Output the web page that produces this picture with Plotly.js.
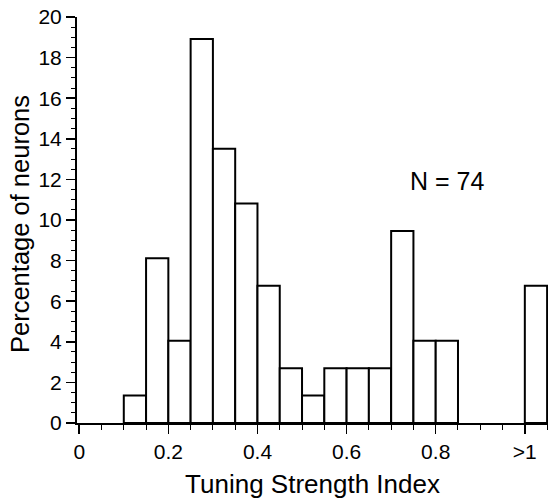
<!DOCTYPE html>
<html>
<head>
<meta charset="utf-8">
<script src="https://cdn.plot.ly/plotly-3.0.1.min.js"></script>
<style>html,body{margin:0;padding:0;background:#fff;}#chart{width:549px;height:500px;}</style>
</head>
<body>
<div id="chart"></div>
<script>
// Bin starts (Tuning Strength Index), bin width 0.05; last bin represents ">1"
const binStart = [0.10, 0.15, 0.20, 0.25, 0.30, 0.35, 0.40, 0.45, 0.50, 0.55, 0.60, 0.65, 0.70, 0.75, 0.80, 1.00];
const binWidth = 0.05;
// Percentage of neurons in each bin (N = 74)
const percent = [1.35, 8.11, 4.05, 18.92, 13.51, 10.81, 6.76, 2.70, 1.35, 2.70, 2.70, 2.70, 9.46, 4.05, 4.05, 6.76];
// X tick labels
const xTickVals = [0, 0.2, 0.4, 0.6, 0.8, 1.0];
const xTickText = ["0", "0.2", "0.4", "0.6", "0.8", ">1"];
const nLabel = "N = 74";

const font = "Liberation Sans, Arial, Helvetica, sans-serif";

const trace = {
  type: "bar",
  x: binStart,
  y: percent,
  width: binStart.map(() => binWidth),
  offset: 0,
  marker: { color: "#ffffff", line: { color: "#000000", width: 2 } },
  hoverinfo: "skip"
};

const margin = { l: 77, r: 1, t: 17, b: 77 };
const pw = 549 - margin.l - margin.r;
const ph = 500 - margin.t - margin.b;

const layout = {
  width: 549, height: 500,
  margin: margin,
  paper_bgcolor: "#ffffff", plot_bgcolor: "#ffffff",
  showlegend: false,
  font: { family: font, color: "#000", size: 20 },
  xaxis: {
    range: [-0.005, 1.052],
    tickvals: xTickVals, ticktext: xTickText,
    ticks: "outside", ticklen: 9, tickwidth: 1.5, tickcolor: "#000",
    minor: { dtick: 0.05, tick0: 0, ticks: "outside", ticklen: 5, tickwidth: 1, tickcolor: "#000" },
    showgrid: false, zeroline: false,
    showline: true, linecolor: "#000", linewidth: 2,
    tickfont: { family: font, size: 21 },
    title: { text: "Tuning Strength Index", font: { family: font, size: 26 }, standoff: 13 }
  },
  yaxis: {
    range: [0, 20],
    dtick: 2, tick0: 0,
    ticks: "outside", ticklen: 9, tickwidth: 1.5, tickcolor: "#000",
    minor: { dtick: 0.5, tick0: 0, ticks: "outside", ticklen: 4, tickwidth: 1, tickcolor: "#000" },
    showgrid: false, zeroline: false,
    showline: true, linecolor: "#000", linewidth: 2,
    tickfont: { family: font, size: 21 },
    title: { text: "" }
  },
  annotations: [
    { text: nLabel, x: 0.825, y: 11.9, xref: "x", yref: "y", showarrow: false,
      font: { family: font, size: 25, color: "#000" } },
    { text: "Percentage of neurons", textangle: -90,
      x: (20 - margin.l) / pw, y: (500 - margin.b - 224) / ph,
      xref: "paper", yref: "paper", xanchor: "center", yanchor: "middle",
      showarrow: false, font: { family: font, size: 25.5, color: "#000" } }
  ]
};

Plotly.newPlot("chart", [trace], layout, { displayModeBar: false, staticPlot: true });
</script>
</body>
</html>
